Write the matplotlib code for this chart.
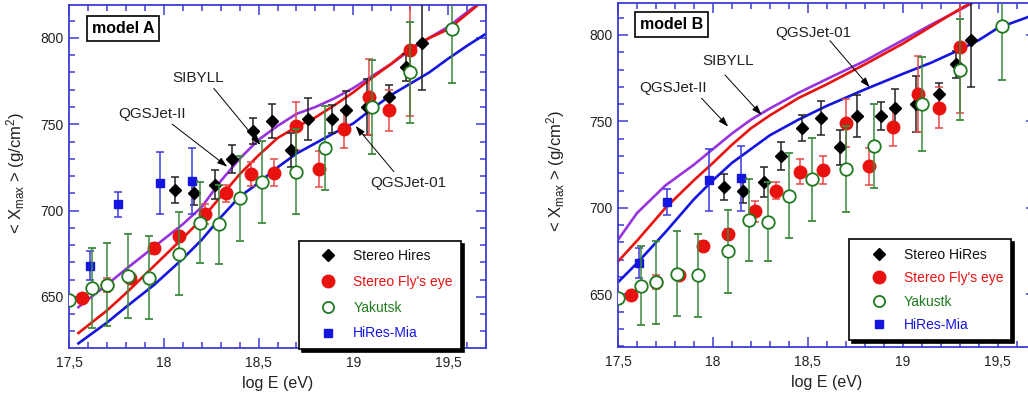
import numpy as np
import matplotlib
matplotlib.use('Agg')
import matplotlib.pyplot as plt
from matplotlib.lines import Line2D
from matplotlib.ticker import MultipleLocator

plt.rcParams['font.family'] = ['Liberation Sans', 'DejaVu Sans']
plt.rcParams['mathtext.fontset'] = 'custom'
plt.rcParams['mathtext.rm'] = 'Liberation Sans'
plt.rcParams['mathtext.it'] = 'Liberation Sans'

# --- experimental data (same in both panels) ---
hires_x = [18.06, 18.16, 18.27, 18.36, 18.47, 18.57, 18.67, 18.76, 18.885, 18.96, 19.07, 19.19, 19.28, 19.36]
hires_y = [712, 710, 715, 730, 746, 752, 735, 753, 753, 758, 760, 766, 783, 797]
hires_err = [7.5, 7, 8.5, 8, 7.5, 10, 10, 12, 8, 11, 16, 6.5, 8, 27]

fly_x = [17.57, 17.70, 17.82, 17.95, 18.08, 18.22, 18.33, 18.46, 18.58, 18.70, 18.82, 18.95, 19.08, 19.19, 19.30]
fly_y = [649.5, 657, 661, 678, 685, 698, 710, 721, 722, 749, 724, 747, 766, 758, 793]
fly_err = [2, 4, 3, 3, 3, 6, 5, 7, 8, 14, 10.5, 11, 22, 12, 38]

yak_x = [17.50, 17.62, 17.70, 17.81, 17.92, 18.08, 18.19, 18.29, 18.40, 18.52, 18.70, 18.85, 19.10, 19.30, 19.52]
yak_y = [648, 655, 657, 662, 661, 675, 693, 692, 707, 716.5, 722.5, 736, 760, 780, 805]
yak_err = [1, 23, 24, 24.5, 24, 24, 23.5, 23, 24.5, 24, 24.7, 24.3, 27, 29, 31]

mia_x = [17.61, 17.76, 17.98, 18.15]
mia_y = [668, 703.5, 716, 717]
mia_err = [8.5, 7.5, 18, 19]

# --- model curves ---
a_x = [17.55, 17.7, 17.8, 17.95, 18.1, 18.2, 18.3, 18.4, 18.5, 18.6, 18.7, 18.8, 18.9, 19.0, 19.1, 19.2, 19.3, 19.4, 19.5, 19.6, 19.7]
a_qgsII = [644, 657, 666, 679, 692, 702, 717, 730, 741, 749, 756, 760, 765, 771, 778, 785, 793, 800, 806.5, 815, 823]
a_sibyll = [629, 642, 652, 668, 684, 695, 708, 721, 732, 742, 748.5, 754, 761, 768.5, 777, 785, 794, 800, 805, 814, 823]
a_qgs01 = [623, 635, 644, 657, 672, 683, 696, 708, 716, 725, 733, 739, 745, 750.5, 759, 767, 773.5, 780, 788, 795.5, 802.5]

b_x = [17.5, 17.6, 17.75, 17.9, 18.0, 18.1, 18.2, 18.3, 18.45, 18.6, 18.8, 19.0, 19.15, 19.3, 19.4, 19.5, 19.7]
b_qgsII = [681.5, 697, 713, 725, 734, 743, 751, 757.5, 766.5, 774.5, 785, 797, 806, 814.5, 820.5, 827, 840]
b_sibyll = [669, 681, 700, 716, 726, 736.5, 746, 753.5, 763.5, 771.5, 783, 795, 805, 815, 821, 827, 840]
b_qgs01 = [657, 668, 686, 705, 716, 726, 734, 742, 751, 759, 768.5, 777.5, 784, 791.5, 797, 804, 812]

xtick_vals = [17.5, 18, 18.5, 19, 19.5]
xtick_labels = ['17,5', '18', '18,5', '19', '19,5']
ytick_vals = [650, 700, 750, 800]

spine_col = '#3b3bd6'
c_purple = '#9933dd'
c_red = '#e8120f'
c_blue = '#1515e0'
c_green = '#1f7a1f'

fig = plt.figure(figsize=(10.28, 3.98), dpi=100)
axA = fig.add_axes([0.0671, 0.1256, 0.4057, 0.8626])
axB = fig.add_axes([0.6012, 0.1289, 0.4063, 0.8636])


def draw(ax, cx, cII, cSib, c01, ylim, hires_label, yak_label, model, model_pos,
         legend_box, spacing, ann):
    ax.plot(cx, cII, color=c_purple, lw=1.9, zorder=2)
    ax.plot(cx, cSib, color=c_red, lw=1.9, zorder=2)
    ax.plot(cx, c01, color=c_blue, lw=1.9, zorder=2)

    ax.errorbar(hires_x, hires_y, yerr=hires_err, fmt='D', color='black', ms=6.5,
                ecolor='#222222', elinewidth=1.1, capsize=3, capthick=1.1, zorder=4)
    ax.errorbar(fly_x, fly_y, yerr=fly_err, fmt='o', color=c_red, ms=9,
                ecolor='#e84848', elinewidth=1.1, capsize=3, capthick=1.1, zorder=4)
    ax.errorbar(yak_x, yak_y, yerr=yak_err, fmt='o', mfc='white', mec=c_green, mew=1.3, ms=9,
                ecolor='#3d8a3d', elinewidth=1.1, capsize=3, capthick=1.1, zorder=5)
    ax.errorbar(mia_x, mia_y, yerr=mia_err, fmt='s', color=c_blue, ms=6,
                ecolor='#3a3ae0', elinewidth=1.1, capsize=3, capthick=1.1, zorder=4)

    ax.set_xlim(17.5, 19.7)
    ax.set_ylim(*ylim)
    ax.set_xticks(xtick_vals, xtick_labels)
    ax.set_yticks(ytick_vals)
    ax.xaxis.set_minor_locator(MultipleLocator(0.1))
    ax.yaxis.set_minor_locator(MultipleLocator(10))
    ax.tick_params(which='both', direction='in', top=True, right=True, color=spine_col,
                   labelsize=10, labelcolor='#222222', width=1.1)
    ax.tick_params(which='major', length=7)
    ax.tick_params(which='minor', length=4)
    ax.tick_params(axis='x', pad=6)
    ax.tick_params(axis='y', pad=4)
    for s in ax.spines.values():
        s.set_color(spine_col)
        s.set_linewidth(1.3)

    ax.set_xlabel('log E (eV)', fontsize=11.5, color='#222222', labelpad=4)
    ax.set_ylabel(r'< X$_{\rm max}$ > (g/cm$^2$)', fontsize=12, color='#222222')

    ax.text(model_pos[0], model_pos[1], model, transform=ax.transAxes, fontsize=11.5,
            fontweight='bold', ha='center', va='center', zorder=6,
            bbox=dict(boxstyle='square,pad=0.3', fc='white', ec='black', lw=1.2))

    for label, txt_xy, start, tip in ann:
        ax.text(txt_xy[0], txt_xy[1], label, fontsize=11, color='#222222',
                ha='center', va='center', zorder=6)
        ax.annotate('', xy=tip, xytext=start, zorder=6,
                    arrowprops=dict(arrowstyle='-|>,head_length=0.6,head_width=0.2',
                                    color='black', lw=0.7, shrinkA=0, shrinkB=0))

    handles = [
        Line2D([], [], marker='D', ls='none', color='black', ms=6),
        Line2D([], [], marker='o', ls='none', color=c_red, ms=9),
        Line2D([], [], marker='o', ls='none', mfc='white', mec=c_green, mew=1.3, ms=8),
        Line2D([], [], marker='s', ls='none', color=c_blue, ms=6),
    ]
    labels = [hires_label, "Stereo Fly's eye", yak_label, 'HiRes-Mia']
    leg = ax.legend(handles, labels, loc='upper left', bbox_to_anchor=legend_box,
                    fontsize=10, frameon=True, fancybox=False, edgecolor='black',
                    framealpha=1, borderpad=0.6, labelspacing=spacing, handletextpad=0.3,
                    handlelength=3.0, borderaxespad=0,
                    labelcolor=['#111111', c_red, c_green, c_blue],
                    shadow={'color': 'black', 'alpha': 1})
    leg.get_frame().set_linewidth(1.2)
    leg.set_zorder(7)


annA = [
    ('SIBYLL', (18.18, 776.8), (18.264, 770.8), (18.51, 738)),
    ('QGSJet-II', (17.94, 755.9), (18.044, 750.1), (18.335, 725.4)),
    ('QGSJet-01', (19.289, 715.9), (19.214, 722.5), (19.012, 749)),
]
annB = [
    ('QGSJet-01', (18.53, 801), (18.616, 796.7), (18.826, 769.7)),
    ('SIBYLL', (18.08, 784.8), (18.063, 776.9), (18.256, 753.7)),
    ('QGSJet-II', (17.791, 769.3), (17.94, 763.4), (18.08, 747)),
]

draw(axA, a_x, a_qgsII, a_sibyll, a_qgs01, (620.3, 819.3), 'Stereo Hires', 'Yakutsk',
     'model A', (0.1295, 0.931), (0.552, 0.3125), 0.85, annA)
draw(axB, b_x, b_qgsII, b_sibyll, b_qgs01, (619.7, 818.5), 'Stereo HiRes', 'Yakustk',
     'model B', (0.1276, 0.9375), (0.554, 0.3125), 0.68, annB)

axA.yaxis.set_label_coords(-0.10, 0.51)
axB.yaxis.set_label_coords(-0.122, 0.51)

fig.savefig('out.png', dpi=100, facecolor='white')
